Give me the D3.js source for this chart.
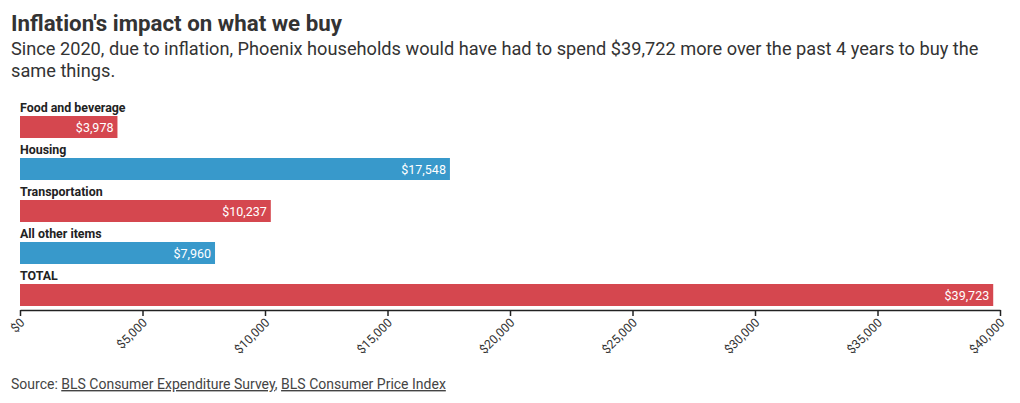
<!DOCTYPE html>
<html>
<head>
<meta charset="utf-8">
<script src="https://cdn.jsdelivr.net/npm/d3@7"></script>
<style>
  body { margin: 0; background: #fff; font-family: Roboto, sans-serif; }
  .title { font-weight: 700; font-size: 22.3px; fill: #333; }
  .sub { font-size: 18.2px; fill: #333; }
  .cat { font-weight: 700; font-size: 12.4px; fill: #222; }
  .val { font-size: 12.5px; fill: #fff; }
  .axis text { font-size: 12.3px; fill: #333; font-family: Roboto, sans-serif; }
  .src { font-size: 14px; fill: #444; }
</style>
</head>
<body>
<div id="chart"></div>
<script>
var width = 1020,
    height = 403;

var categories = ["Food and beverage", "Housing", "Transportation", "All other items", "TOTAL"];
var values = [3978, 17548, 10237, 7960, 39723];
var barColors = ["#d5474f", "#3899cb", "#d5474f", "#3899cb", "#d5474f"];
var ticks = [0, 5000, 10000, 15000, 20000, 25000, 30000, 35000, 40000];

var left = 20, right = 1000;
var rowTop = 116, rowStep = 42, barH = 22;

var svg = d3.select("#chart").append("svg")
    .attr("width", width)
    .attr("height", height);

svg.append("text").attr("class", "title").attr("x", 11).attr("y", 31)
   .text("Inflation's impact on what we buy");
svg.append("text").attr("class", "sub").attr("x", 11).attr("y", 55)
   .text("Since 2020, due to inflation, Phoenix households would have had to spend $39,722 more over the past 4 years to buy the");
svg.append("text").attr("class", "sub").attr("x", 11).attr("y", 77)
   .text("same things.");

var x = d3.scaleLinear().domain([0, 40000]).range([left, right]);

var rows = categories.map(function(c, i){
  return { name: c, value: values[i], color: barColors[i], y: rowTop + i * rowStep };
});

var g = svg.selectAll("g.row").data(rows).enter().append("g").attr("class", "row");

g.append("text").attr("class", "cat")
  .attr("x", left)
  .attr("y", function(d){ return d.y - 4; })
  .text(function(d){ return d.name; });

g.append("rect")
  .attr("x", x(0))
  .attr("y", function(d){ return d.y; })
  .attr("width", function(d){ return x(d.value) - x(0); })
  .attr("height", barH)
  .style("fill", function(d){ return d.color; });

g.append("text").attr("class", "val")
  .attr("x", function(d){ return x(d.value) - 4; })
  .attr("y", function(d){ return d.y + 15.5; })
  .attr("text-anchor", "end")
  .text(function(d){ return "$" + d3.format(",")(d.value); });

var axisY = 310;
var axis = svg.append("g").attr("class", "axis")
  .attr("transform", "translate(0," + axisY + ")")
  .call(d3.axisBottom(x).tickValues(ticks).tickSize(6).tickSizeOuter(0)
    .tickFormat(function(d){ return "$" + d3.format(",")(d); }));
axis.select(".domain").attr("stroke", "#222").attr("stroke-width", 1.5);
axis.selectAll(".tick line").attr("stroke", "#222").attr("stroke-width", 1.5);
axis.selectAll(".tick text")
  .attr("text-anchor", "end")
  .attr("x", -6)
  .attr("y", 13)
  .attr("dy", 0)
  .attr("transform", "rotate(-45)");

var src = svg.append("text").attr("class", "src").attr("x", 11).attr("y", 389);
src.append("tspan").text("Source: ");
src.append("tspan").style("text-decoration", "underline").text("BLS Consumer Expenditure Survey");
src.append("tspan").text(", ");
src.append("tspan").style("text-decoration", "underline").text("BLS Consumer Price Index");
</script>
</body>
</html>
